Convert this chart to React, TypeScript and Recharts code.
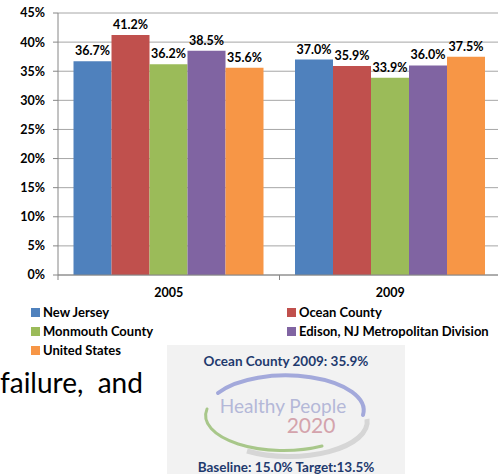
import React from 'react';
import { BarChart, Bar, XAxis, YAxis, CartesianGrid, LabelList } from 'recharts';

const years = ['2005', '2009'];
const seriesNames = ['New Jersey', 'Ocean County', 'Monmouth County', 'Edison, NJ Metropolitan Division', 'United States'];
const seriesKeys = ['nj', 'ocean', 'monmouth', 'edison', 'us'];
const seriesColors = ['#4F81BD', '#C0504D', '#9BBB59', '#8064A2', '#F79646'];
const newJersey = [36.7, 37.0];
const oceanCounty = [41.2, 35.9];
const monmouthCounty = [36.2, 33.9];
const edisonDivision = [38.5, 36.0];
const unitedStates = [35.6, 37.5];
const yTicks = [0, 5, 10, 15, 20, 25, 30, 35, 40, 45];

const seriesValues = [newJersey, oceanCounty, monmouthCounty, edisonDivision, unitedStates];
const data = years.map((y, i) => {
  const row: any = { year: y };
  seriesKeys.forEach((k, s) => { row[k] = seriesValues[s][i]; });
  return row;
});

const FONT = 'Lato, "Open Sans", sans-serif';
const AXIS = '#868686';
const CHART_W = 510;
const MARGIN = { top: 13, right: 9, left: 0, bottom: 0 };
const Y_W = 58;
const HALF_BAND = (CHART_W - MARGIN.right - Y_W) / years.length / 2;
const AXIS_Y = 275;

const XTick = (props: any) => {
  const { x, payload } = props;
  return (
    <g>
      <line x1={x - HALF_BAND} x2={x - HALF_BAND} y1={AXIS_Y} y2={AXIS_Y + 5} stroke={AXIS} />
      <line x1={x + HALF_BAND} x2={x + HALF_BAND} y1={AXIS_Y} y2={AXIS_Y + 5} stroke={AXIS} />
      <text x={x} y={AXIS_Y + 22} textAnchor="middle" fontSize={12.5} fontWeight="bold" fill="#000" fontFamily={FONT}>
        {payload.value}
      </text>
    </g>
  );
};

const legendPos = [
  { x: 31, y: 306 },
  { x: 287, y: 306 },
  { x: 31, y: 325 },
  { x: 287, y: 325 },
  { x: 31, y: 344 },
];

export default function App() {
  return (
    <div style={{ position: 'absolute', left: 0, top: 0, width: 498, height: 474, overflow: 'hidden', background: '#fff', fontFamily: FONT }}>
      <BarChart width={CHART_W} height={305} data={data} margin={MARGIN} barCategoryGap="7%" barGap={0}>
        <CartesianGrid vertical={false} stroke="#A6A6A6" />
        <XAxis dataKey="year" tickLine={false} axisLine={{ stroke: AXIS }} height={30} tick={<XTick />} interval={0} />
        <YAxis
          width={Y_W}
          domain={[0, 45]}
          ticks={yTicks}
          interval={0}
          tickFormatter={(v: number) => `${v}%`}
          axisLine={{ stroke: AXIS }}
          tickLine={{ stroke: AXIS }}
          tickSize={5}
          tickMargin={8}
          tick={{ fontSize: 12.5, fontWeight: 'bold', fill: '#000', fontFamily: FONT }}
        />
        {seriesKeys.map((k, i) => (
          <Bar key={k} dataKey={k} name={seriesNames[i]} fill={seriesColors[i]} isAnimationActive={false}>
            <LabelList
              dataKey={k}
              position="top"
              offset={6}
              formatter={(v: any) => `${Number(v).toFixed(1)}%`}
              style={{ fontSize: 12.5, fontWeight: 'bold', fill: '#000', fontFamily: FONT }}
            />
          </Bar>
        ))}
      </BarChart>

      {seriesNames.map((n, i) => (
        <div key={n} style={{ position: 'absolute', left: legendPos[i].x, top: legendPos[i].y, display: 'flex', alignItems: 'center', height: 13 }}>
          <div style={{ width: 9, height: 9, background: seriesColors[i], marginRight: 3 }} />
          <span style={{ fontSize: 13, fontWeight: 'bold', color: '#000', whiteSpace: 'nowrap', lineHeight: '13px' }}>{n}</span>
        </div>
      ))}

      <div style={{ position: 'absolute', left: 0, top: 365, fontSize: 28, color: '#000', whiteSpace: 'pre', lineHeight: '34px' }}>
        {'failure,  and'}
      </div>

      <div style={{ position: 'absolute', left: 167, top: 345, width: 238, height: 129, background: '#F2F2F2' }}>
        <div style={{ position: 'absolute', left: 0, width: 238, top: 8, textAlign: 'center', fontSize: 13.5, fontWeight: 'bold', color: '#1F3A6E', lineHeight: '16px' }}>
          Ocean County 2009: 35.9%
        </div>
        <svg width={238} height={129} style={{ position: 'absolute', left: 0, top: 0 }}>
          <path d="M 80 106 A 78 35 0 0 0 200 74" fill="none" stroke="#D6D6D6" strokeWidth={5} />
          <path d="M 51 48 A 78 35 0 0 1 196 70" fill="none" stroke="#A3A9DB" strokeWidth={4} strokeLinecap="round" />
          <path d="M 40 64 A 78 35 0 0 0 155 101" fill="none" stroke="#A8C78A" strokeWidth={3} strokeLinecap="round" />
          <text x={116} y={68} textAnchor="middle" fontSize={19} fill="#B4B8D8" fontFamily={FONT}>Healthy People</text>
          <text x={144} y={88} textAnchor="middle" fontSize={21} fill="#D4A3AC" fontFamily={FONT}>2020</text>
        </svg>
        <div style={{ position: 'absolute', left: 0, width: 238, top: 114, textAlign: 'center', fontSize: 13.5, fontWeight: 'bold', color: '#1F3A6E', lineHeight: '16px' }}>
          Baseline: 15.0% Target:13.5%
        </div>
      </div>
    </div>
  );
}
